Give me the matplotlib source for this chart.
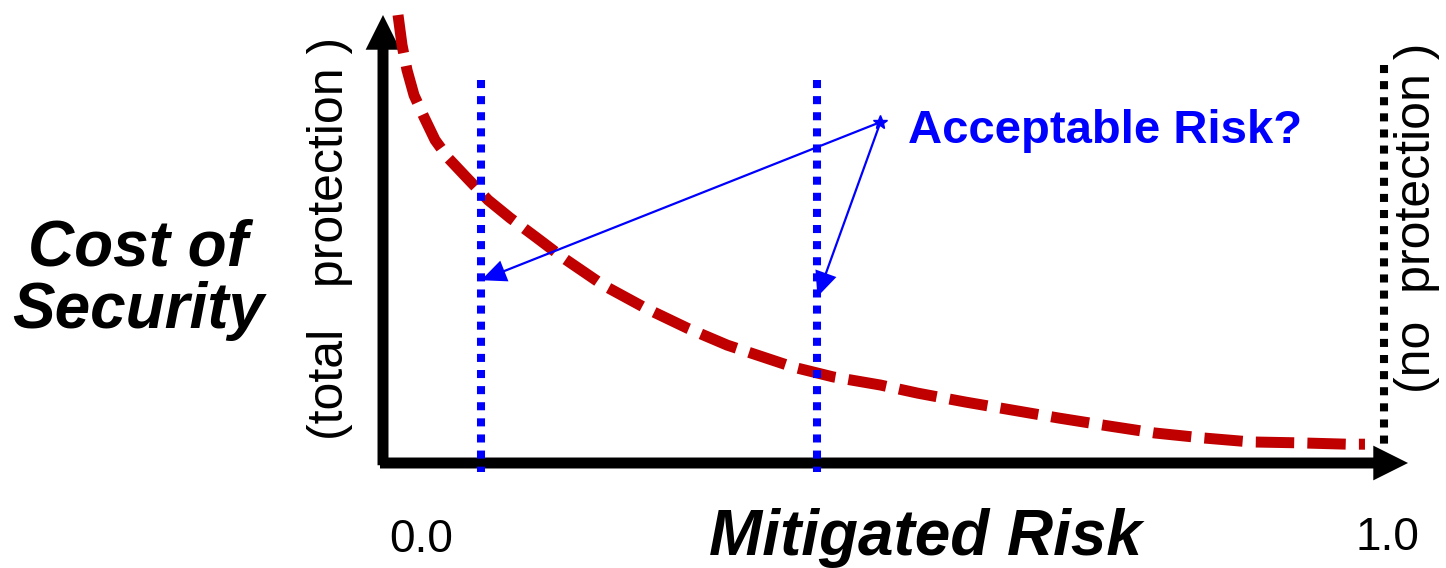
import matplotlib
matplotlib.use("Agg")
import matplotlib.pyplot as plt
from matplotlib.patches import FancyArrowPatch

plt.rcParams['font.family'] = ['Liberation Sans', 'DejaVu Sans']

# cost curve (risk 0..1, cost 0..1)
risk = [0.015, 0.019, 0.024, 0.031, 0.041, 0.052, 0.065, 0.084, 0.105, 0.127,
        0.154, 0.180, 0.220, 0.262, 0.304, 0.344, 0.410, 0.450, 0.497, 0.534,
        0.582, 0.629, 0.676, 0.724, 0.771, 0.819, 0.867, 0.915, 0.963, 0.981]
cost = [1.000, 0.933, 0.877, 0.821, 0.772, 0.721, 0.681, 0.636, 0.587, 0.547,
        0.502, 0.458, 0.397, 0.346, 0.301, 0.263, 0.214, 0.192, 0.174, 0.156,
        0.136, 0.118, 0.100, 0.083, 0.067, 0.056, 0.047, 0.045, 0.042, 0.042]

acceptable_risk = [0.098, 0.434]    # blue dotted candidates
acceptable_cost = [0.408, 0.371]    # where the arrows point
label_point = (0.497, 0.761)        # where the arrows start
no_protection = 1.0

fig = plt.figure(figsize=(14.46, 5.68), dpi=100)
ax = fig.add_axes([383 / 1446, 105 / 568, 1001 / 1446, 448 / 568])
ax.set_xlim(0, 1)
ax.set_ylim(0, 1)
ax.axis('off')

# axes with arrow heads
for start, end in [((0.0, -0.005), (0.0, 1.0)), ((-0.003, 0.0), (1.024, 0.0))]:
    ax.add_patch(FancyArrowPatch(start, end, arrowstyle='simple,head_length=25,head_width=25,tail_width=7.9',
                                 mutation_scale=1, color='black', lw=0, shrinkA=0, shrinkB=0,
                                 clip_on=False, zorder=3))

# cost of security curve
ax.plot(risk, cost, color='#c00000', lw=7.9, dashes=(3.5, 1.2), solid_capstyle='butt',
        clip_on=False, zorder=4)

# candidate acceptable risks
for r in acceptable_risk:
    ax.plot([r, r], [0.855, -0.02], color='#0000ff', lw=5.8, dashes=(1, 1),
            clip_on=False, zorder=5)
ax.plot([no_protection, no_protection], [0.888, 0.029], color='black', lw=5.8,
        dashes=(1, 1), clip_on=False, zorder=5)

# annotation arrows
for r, c in zip(acceptable_risk, acceptable_cost):
    ax.add_patch(FancyArrowPatch(label_point, (r, c),
                                 arrowstyle='simple,head_length=18,head_width=16,tail_width=1.6',
                                 mutation_scale=1, color='#0000ff', lw=0, shrinkA=0, shrinkB=0,
                                 zorder=6))
ax.plot(*label_point, marker='*', ms=10, color='#0000ff', zorder=7)

ax.text(0.524, 0.741, 'Acceptable Risk?', color='#0000ff', fontsize=34,
        fontweight='bold', ha='left', va='center')

# labels
fig.text(0.0954, 0.507, 'Cost of\nSecurity', fontsize=46, fontweight='bold',
         fontstyle='italic', ha='center', va='center', linespacing=1.05)
fig.text(0.6397, 1 - 555 / 568, 'Mitigated Risk', fontsize=46, fontweight='bold',
         fontstyle='italic', ha='center', va='baseline')
fig.text(421 / 1446, 1 - 552 / 568, '0.0', fontsize=33, ha='center', va='baseline')
fig.text(1387 / 1446, 1 - 550 / 568, '1.0', fontsize=33, ha='center', va='baseline')
fig.text(330 / 1446, 1 - 238 / 568, '(total   protection )', fontsize=36,
         rotation=90, ha='center', va='center')
fig.text(1417 / 1446, 1 - 218 / 568, '(no  protection )', fontsize=36,
         rotation=90, ha='center', va='center')

fig.savefig('out.png', dpi=100, facecolor='white')
